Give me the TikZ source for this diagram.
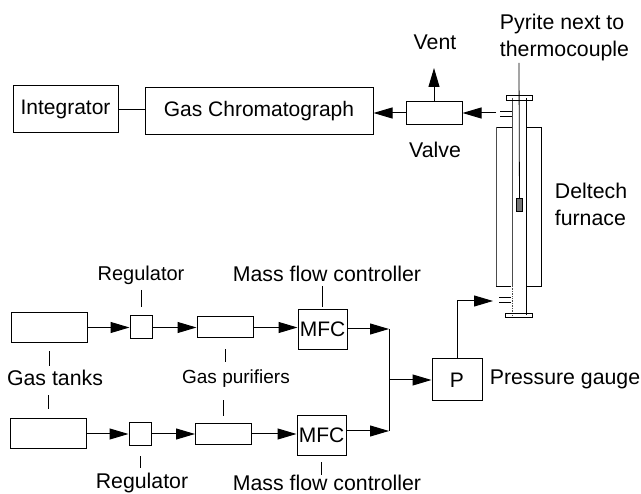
\documentclass[tikz,border=0pt]{standalone}
\usepackage{fontspec}
\setmainfont{Liberation Sans}
\usetikzlibrary{arrows.meta}

\begin{document}
\begin{tikzpicture}[x=1pt, y=-1pt, line width=1pt,
            box/.style={draw, rectangle, inner sep=0pt, font=\fontsize{21}{24}\selectfont},
            tank/.style={box, minimum width=76pt, minimum height=30pt},
            regbox/.style={box, minimum width=22pt, minimum height=23pt},
            purifier/.style={box, minimum width=56pt, minimum height=21pt},
            mfc/.style={box, minimum width=49pt, minimum height=40pt},
            txt/.style={inner sep=0pt, align=center, font=\fontsize{21.3}{27}\selectfont},
            flow/.style={-{Triangle[length=19pt, width=11pt]}},
            tick/.style={line width=0.9pt},
            wall/.style={line width=0.9pt},
            thinwall/.style={line width=0.7pt, black!70}]
            \useasboundingbox (0,0) rectangle (641,494);

            % upper row
            \node[box, minimum width=105pt, minimum height=47pt] (integrator) at (65.5,109.5) {Integrator};
            \node[box, minimum width=228pt, minimum height=47pt] (gc) at (259,111) {Gas Chromatograph};
            \node[box, minimum width=56pt, minimum height=23pt] (valve) at (434,113) {};
            \node[txt] (vent) at (435,42) {Vent};
            \node[txt] (valvelabel) at (435,150) {Valve};
            \coordinate (ventout) at (434,68);
            \coordinate (outlet) at (496,113);
            \coordinate (inlet) at (493,301);

            \draw (integrator) -- (integrator -| gc.west);
            \draw[flow] (outlet) -- (valve);
            \draw[flow] (valve) -- (valve -| gc.east);
            \draw[flow] (valve) -- (ventout);

            % furnace and reactor tube
            \draw[wall] (512,127) -- (496,127);
            \draw[thinwall] (496,127) -- (496,286);
            \draw[wall] (496,286) -- (511,286);
            \draw[wall] (526,127) -- (541,127) -- (541,286) -- (526,286);
            \draw[thinwall] (512,98) -- (512,286);
            \draw[wall] (526,98) -- (526,315);
            \draw[thinwall, densely dotted] (512,286) -- (512,315);
            \draw[wall] (506,95) rectangle (532,100);
            \draw[wall] (505,313) rectangle (532,317);
            \draw[wall] (500,111) -- (512,111) (500,116) -- (512,116);
            \draw[wall] (499,297) -- (511,297) (499,302) -- (511,302);
            \coordinate (couple) at (519,63);
            \node[draw, rectangle, fill=black!55, inner sep=0pt, minimum width=6pt, minimum height=13pt] (pyrite) at (519.5,205.5) {};
            \draw[line width=0.8pt] (couple) -- (pyrite);

            \node[txt, align=left] (pyritelabel) at (564.5,37) {Pyrite next to\\thermocouple};
            \node[txt, align=left] (furnacelabel) at (591,204) {Deltech\\furnace};

            % gas lines
            \node[tank] (tankone) at (49,327.5) {};
            \node[tank] (tanktwo) at (48,434) {};
            \node[regbox] (regone) at (141,327.5) {};
            \node[regbox] (regtwo) at (140,434) {};
            \node[purifier] (pureone) at (225,327.5) {};
            \node[purifier] (puretwo) at (223.5,434) {};
            \node[mfc] (mfcone) at (322.5,329.5) {MFC};
            \node[mfc] (mfctwo) at (321.5,435.5) {MFC};
            \node[box, minimum width=50pt, minimum height=42pt] (gauge) at (457,380) {P};

            \node[txt, font=\fontsize{20}{24}\selectfont] (regtop) at (141,275) {Regulator};
            \node[txt] (regbottom) at (142,483) {Regulator};
            \node[txt] (mfctop) at (327,274) {Mass flow controller};
            \node[txt] (mfcbottom) at (327,483) {Mass flow controller};
            \node[txt] (tanks) at (55,378) {Gas tanks};
            \node[txt, font=\fontsize{19}{24}\selectfont] (purifiers) at (236,379) {Gas purifiers};
            \node[txt] (gaugelabel) at (565,379) {Pressure gauge};

            \coordinate (joinone) at (389,329);
            \coordinate (jointwo) at (389,431);
            \coordinate (joinmid) at (389,380);

            \draw[flow] (tankone) -- (regone);
            \draw[flow] (regone) -- (pureone);
            \draw[flow] (pureone) -- (pureone -| mfcone.west);
            \draw[flow] (tanktwo) -- (regtwo);
            \draw[flow] (regtwo) -- (puretwo);
            \draw[flow] (puretwo) -- (puretwo -| mfctwo.west);
            \draw[flow] (mfcone.east |- joinone) -- (joinone);
            \draw[flow] (mfctwo.east |- jointwo) -- (jointwo);
            \draw (joinone) -- (jointwo);
            \draw[flow] (joinmid) -- (gauge);
            \draw[flow] (gauge.north) |- (inlet);

            \draw[tick, shorten <=5pt, shorten >=8pt] (regone |- regtop.south) -- (regone.north);
            \draw[tick, shorten <=5pt, shorten >=10pt] (regtwo |- regbottom.north) -- (regtwo.south);
            \draw[tick, shorten <=4pt, shorten >=2pt] (mfcone |- mfctop.south) -- (mfcone.north);
            \draw[tick, shorten >=6pt] (mfctwo |- mfcbottom.north) -- (mfctwo.south);
            \draw[tick, shorten <=4pt, shorten >=8pt] (tankone |- tanks.north) -- (tankone.south);
            \draw[tick, shorten <=9pt, shorten >=9pt] (tanktwo |- tanks.south) -- (tanktwo.north);
            \draw[tick, shorten <=8pt, shorten >=11pt] (pureone |- purifiers.north) -- (pureone.south);
            \draw[tick, shorten <=12pt, shorten >=7pt] (puretwo |- purifiers.south) -- (puretwo.north);
        \end{tikzpicture}
\end{document}
